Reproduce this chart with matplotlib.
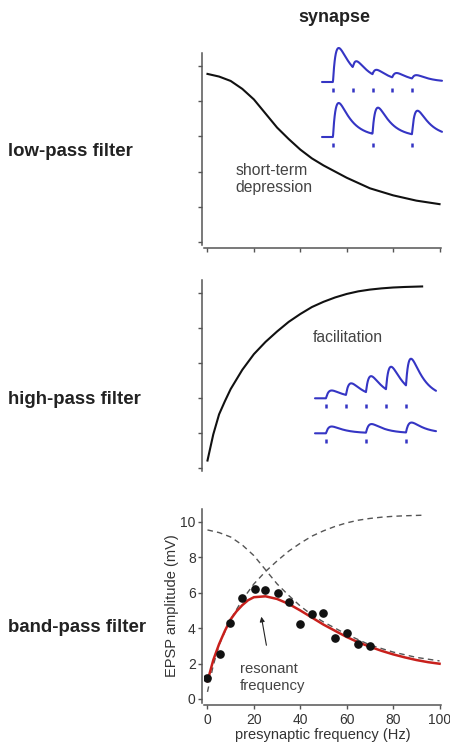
import numpy as np
import matplotlib.pyplot as plt

plt.rcParams["font.family"] = ["Liberation Sans", "DejaVu Sans"]

# ---- data ----
# depression curve (panel 1 and dashed in panel 3)
dep_x = [0, 5, 10, 15, 20, 25, 30, 35, 40, 45, 50, 55, 60, 65, 70, 75, 80, 85, 90, 95, 100]
dep_y = [9.55, 9.4, 9.15, 8.7, 8.1, 7.3, 6.5, 5.85, 5.25, 4.75, 4.35, 4.0, 3.65, 3.35, 3.05,
         2.85, 2.65, 2.5, 2.35, 2.25, 2.15]

# facilitation curve (panel 2 and dashed in panel 3)
fac_x = [0, 2.5, 5, 7.5, 10, 15, 20, 25, 30, 35, 40, 45, 50, 55, 60, 65, 70, 75, 80, 85, 90, 92.5]
fac_y = [0.4, 1.9, 3.05, 3.8, 4.5, 5.6, 6.5, 7.2, 7.8, 8.35, 8.8, 9.2, 9.5, 9.75, 9.95, 10.1,
         10.2, 10.27, 10.32, 10.35, 10.37, 10.38]

# band-pass fit (red)
fit_x = [0, 2.5, 5, 7.5, 10, 12.5, 15, 17.5, 20, 25, 30, 35, 40, 45, 50, 55, 60, 65, 70, 75,
         80, 85, 90, 95, 100]
fit_y = [1.0, 2.2, 3.1, 3.85, 4.5, 4.95, 5.3, 5.58, 5.75, 5.8, 5.65, 5.37, 5.0, 4.6, 4.2, 3.85,
         3.5, 3.2, 2.95, 2.72, 2.52, 2.35, 2.2, 2.08, 1.99]

# measured EPSP amplitudes
pts_x = [0, 5.5, 9.8, 14.8, 20.3, 24.9, 30.2, 35.2, 39.9, 45.2, 49.9, 55, 60, 65, 70.1]
pts_y = [1.2, 2.52, 4.27, 5.69, 6.2, 6.13, 5.98, 5.5, 4.21, 4.78, 4.88, 3.47, 3.74, 3.13, 2.98]

# relative EPSP amplitudes for the example traces
dep_fast_amps = [1.0, 0.30, 0.20, 0.17, 0.13]
dep_slow_amps = [1.0, 0.80, 0.72]
fac_fast_amps = [0.23, 0.375, 0.53, 0.75, 0.91]
fac_slow_amps = [0.20, 0.26, 0.30]

x_ticks = [0, 20, 40, 60, 80, 100]
y_ticks = [0, 2, 4, 6, 8, 10]

W, H = 450, 749
spine_col = "#555555"
txt_col = "#333333"
blue = "#3535c4"

fig = plt.figure(figsize=(4.5, 7.49), dpi=100)


def frac(px_left, py_top, px_right, py_bottom):
    return [px_left / W, 1 - py_bottom / H, (px_right - px_left) / W, (py_bottom - py_top) / H]


def style_axes(ax, bottom=True, labels=False):
    for s in ["top", "right"]:
        ax.spines[s].set_visible(False)
    ax.spines["left"].set_position(("outward", 1.5))
    ax.spines["bottom"].set_position(("outward", 1.5))
    ax.spines["left"].set_color(spine_col)
    ax.spines["bottom"].set_color(spine_col)
    ax.spines["left"].set_linewidth(1.1)
    ax.spines["bottom"].set_linewidth(1.1)
    ax.set_xlim(-1.5, 100.5)
    ax.set_ylim(-0.2, 10.75)
    ax.set_xticks(x_ticks)
    ax.set_yticks(y_ticks)
    ax.tick_params(direction="out", length=3, width=1, color=spine_col,
                   labelsize=10, labelcolor=txt_col)
    ax.tick_params(axis="y", pad=1.5)
    ax.tick_params(axis="x", pad=3)
    if not bottom:
        ax.spines["bottom"].set_visible(False)
        ax.set_xticks([])
    if not labels:
        ax.set_xticklabels([])
        ax.set_yticklabels([])


ax1 = fig.add_axes(frac(204, 52.8, 440.7, 245.5))
style_axes(ax1)
ax1.plot(dep_x, dep_y, color="#111111", lw=1.5)
ax1.text(11.9, 3.6, "short-term\ndepression", ha="left", va="center", fontsize=11.3,
         color="#444444", linespacing=1.15)

ax2 = fig.add_axes(frac(204, 280, 440.7, 471))
style_axes(ax2, bottom=False)
ax2.plot(fac_x, fac_y, color="#111111", lw=1.5)
ax2.text(60.6, 7.43, "facilitation", ha="center", va="center", fontsize=11.3, color="#444444")

ax3 = fig.add_axes(frac(204, 508.7, 440.7, 702.5))
style_axes(ax3, labels=True)
ax3.plot(dep_x, dep_y, color="#555555", lw=1.0, ls=(0, (4, 3)))
ax3.plot(fac_x, fac_y, color="#555555", lw=1.0, ls=(0, (4, 3)))
ax3.plot(fit_x, fit_y, color="#c8201c", lw=1.8)
ax3.plot(pts_x, pts_y, "o", color="#111111", ms=5.2, zorder=5)
ax3.annotate("", xy=(23, 4.8), xytext=(25.6, 2.88),
             arrowprops=dict(arrowstyle="-|>", lw=0.8, color="#222222", mutation_scale=7))
ax3.text(14, 1.22, "resonant\nfrequency", ha="left", va="center", fontsize=10.7,
         color="#444444", linespacing=1.25)
ax3.set_xlabel("presynaptic frequency (Hz)", fontsize=10.5, color=txt_col, labelpad=1)
ax3.set_ylabel("EPSP amplitude (mV)", fontsize=10.5, color=txt_col)
ax3.yaxis.set_label_coords(-0.106, 0.5)


# example EPSP trains
def epsp(t, stims, amps, scale):
    fine = np.linspace(0, 40, 2000)
    norm = np.max(np.exp(-fine / 13.0) - np.exp(-fine / 3.0))
    v = np.zeros_like(t)
    for t0, a in zip(stims, amps):
        s = t - t0
        k = np.where(s > 0, np.exp(-s / 13.0) - np.exp(-s / 3.0), 0.0) / norm
        v = v + a * scale * k
    return v


def draw_train(ax, base, t_start, t_end, first, step, amps):
    t = np.linspace(t_start, t_end, 400)
    stims = [first + i * step for i in range(len(amps))]
    ax.plot(t, base + epsp(t, stims, amps, 34), color=blue, lw=1.5,
            solid_capstyle="round", solid_joinstyle="round")
    for s in stims:
        ax.plot([s, s], [base - 10, base - 6], color=blue, lw=1.8, solid_capstyle="butt")


ins1 = fig.add_axes(frac(318, 40, 445, 150))
ins1.set_xlim(0, 127)
ins1.set_ylim(0, 110)
ins1.axis("off")
draw_train(ins1, 68, 4, 124, 15, 19.75, dep_fast_amps)
draw_train(ins1, 13, 4, 124, 15, 39.5, dep_slow_amps)

ins2 = fig.add_axes(frac(310, 350, 440, 450))
ins2.set_xlim(0, 130)
ins2.set_ylim(0, 100)
ins2.axis("off")
draw_train(ins2, 51.7, 5, 126, 16, 20, fac_fast_amps)
draw_train(ins2, 16.7, 5, 126, 16, 40, fac_slow_amps)

# row and column headings
fig.text(334 / W, 1 - 18 / H, "synapse", ha="center", va="center", fontsize=13,
         fontweight="bold", color="#222222")
for label, py in [("low-pass filter", 152), ("high-pass filter", 400), ("band-pass filter", 627)]:
    fig.text(8 / W, 1 - py / H, label, ha="left", va="center", fontsize=13.4,
             fontweight="bold", color="#222222")

fig.savefig("out.png", dpi=100)
